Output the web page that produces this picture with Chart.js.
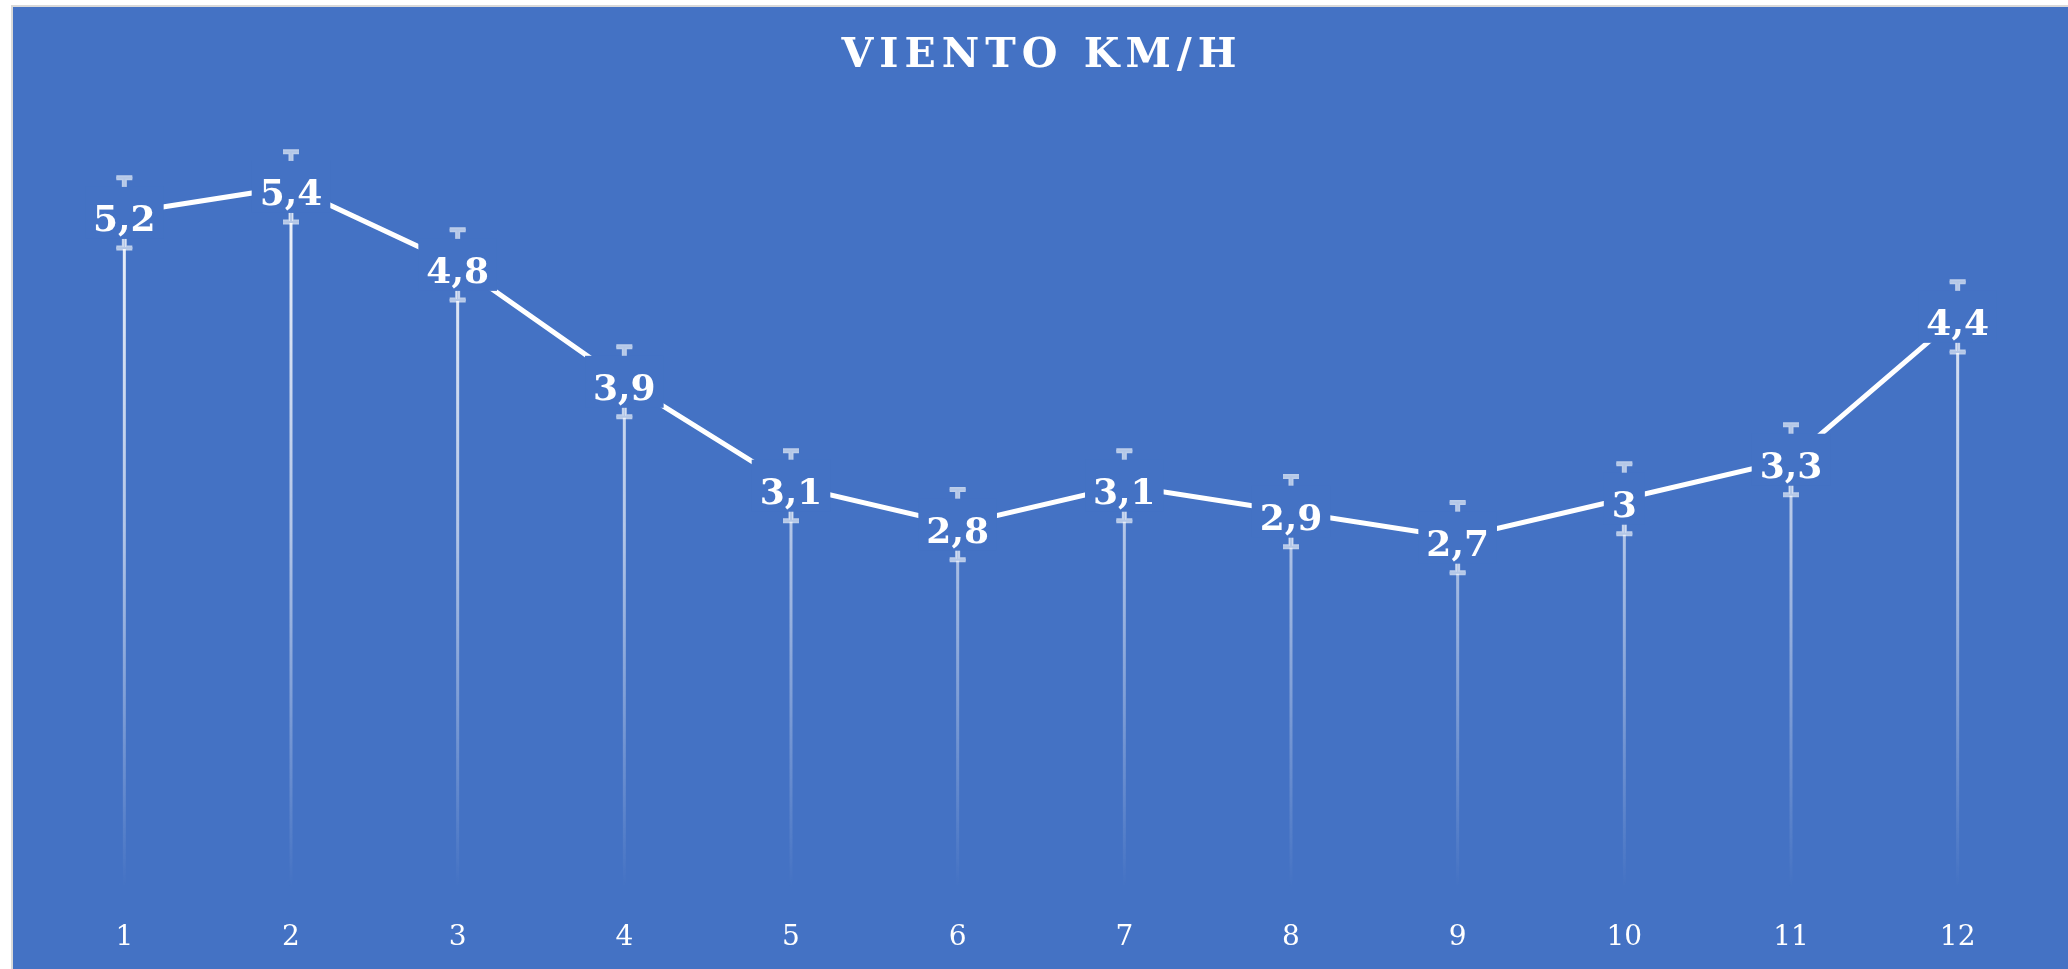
<!DOCTYPE html>
<html lang="es">
<head>
<meta charset="utf-8">
<title>Viento km/h</title>
<script src="https://cdn.jsdelivr.net/npm/chart.js@4.4.1/dist/chart.umd.min.js"></script>
<style>
  html, body { margin: 0; padding: 0; background: #fff; overflow: hidden; }
  #marco {
    position: absolute; left: 11px; top: 5px;
    width: 2100px; height: 1050px;
    border: 2px solid #d9d9d9;
    background: #4472c4;
  }
  #lienzo { position: absolute; left: 0; top: 0; width: 2055px; height: 993px; }
</style>
</head>
<body>
<div id="marco">
  <div id="lienzo"><canvas id="vientoChart"></canvas></div>
</div>
<script>
// datos
const meses = ["1", "2", "3", "4", "5", "6", "7", "8", "9", "10", "11", "12"];
const viento = [5.2, 5.4, 4.8, 3.9, 3.1, 2.8, 3.1, 2.9, 2.7, 3, 3.3, 4.4];
const margenError = 0.27;
const titulo = "VIENTO KM/H";

const azul = "#4472c4";
const fuenteSerif = "'DejaVu Serif', 'Liberation Serif', serif";

const fmt = v => String(v).replace(".", ",");

// lineas verticales que bajan hasta el eje (degradado)
const lineasCaida = {
  id: "lineasCaida",
  beforeDatasetsDraw(chart) {
    const { ctx, scales: { x, y } } = chart;
    const y0 = y.getPixelForValue(0);
    ctx.save();
    const grad = ctx.createLinearGradient(0, chart.chartArea.top + 60, 0, y0);
    grad.addColorStop(0, "rgba(255,255,255,0.95)");
    grad.addColorStop(0.5, "rgba(255,255,255,0.6)");
    grad.addColorStop(1, "rgba(255,255,255,0)");
    ctx.strokeStyle = grad;
    ctx.lineWidth = 3;
    viento.forEach((v, i) => {
      const px = x.getPixelForValue(i);
      ctx.beginPath();
      ctx.moveTo(px, y.getPixelForValue(v));
      ctx.lineTo(px, y0);
      ctx.stroke();
    });
    ctx.restore();
  },
};

// barras de error + etiquetas con fondo
const errorYEtiquetas = {
  id: "errorYEtiquetas",
  afterDatasetsDraw(chart) {
    const { ctx, scales: { x, y } } = chart;
    ctx.save();
    viento.forEach((v, i) => {
      const px = x.getPixelForValue(i);
      const arriba = y.getPixelForValue(v + margenError);
      const abajo = y.getPixelForValue(v - margenError);
      const dibujar = () => {
        ctx.beginPath();
        ctx.moveTo(px, arriba);
        ctx.lineTo(px, abajo);
        ctx.moveTo(px - 8, arriba);
        ctx.lineTo(px + 8, arriba);
        ctx.moveTo(px - 8, abajo);
        ctx.lineTo(px + 8, abajo);
        ctx.stroke();
      };
      ctx.lineCap = "butt";
      ctx.strokeStyle = "rgba(255,255,255,0.65)";
      ctx.lineWidth = 5;
      dibujar();
      ctx.strokeStyle = "#b4c7e7";
      ctx.lineWidth = 2;
      dibujar();
    });

    ctx.font = "bold 36px " + fuenteSerif;
    ctx.textAlign = "center";
    ctx.textBaseline = "middle";
    viento.forEach((v, i) => {
      const px = x.getPixelForValue(i);
      const py = y.getPixelForValue(v);
      const txt = fmt(v);
      const w = ctx.measureText(txt).width + 16;
      ctx.fillStyle = azul;
      ctx.fillRect(px - w / 2, py - 26, w, 52);
      ctx.fillStyle = "#fff";
      ctx.fillText(txt, px, py + 9);
    });
    ctx.restore();
  },
};

// titulo con espaciado entre letras
const tituloEspaciado = {
  id: "tituloEspaciado",
  afterDraw(chart) {
    const { ctx } = chart;
    ctx.save();
    ctx.font = "bold 41px " + fuenteSerif;
    ctx.letterSpacing = "6px";
    ctx.fillStyle = "#fff";
    ctx.textAlign = "center";
    ctx.textBaseline = "middle";
    ctx.fillText(titulo, 1029, 49);
    ctx.restore();
  },
};

new Chart(document.getElementById("vientoChart").getContext("2d"), {
  type: "line",
  data: {
    labels: meses,
    datasets: [
      {
        label: "Viento km/h",
        data: viento,
        borderColor: "#fff",
        borderWidth: 5,
        pointRadius: 0,
        tension: 0,
        fill: false,
      },
    ],
  },
  options: {
    responsive: true,
    maintainAspectRatio: false,
    animation: false,
    layout: { padding: { left: 28, right: 27, top: 102, bottom: 12 } },
    plugins: {
      legend: { display: false },
      title: { display: false },
      tooltip: { enabled: false },
    },
    scales: {
      x: {
        offset: true,
        border: { display: false },
        grid: { display: false, drawTicks: false },
        ticks: {
          color: "#fff",
          padding: 33,
          maxRotation: 0,
          font: { family: fuenteSerif, size: 28 },
        },
      },
      y: {
        display: false,
        min: 0,
        max: 6,
      },
    },
  },
  plugins: [lineasCaida, errorYEtiquetas, tituloEspaciado],
});
</script>
</body>
</html>
